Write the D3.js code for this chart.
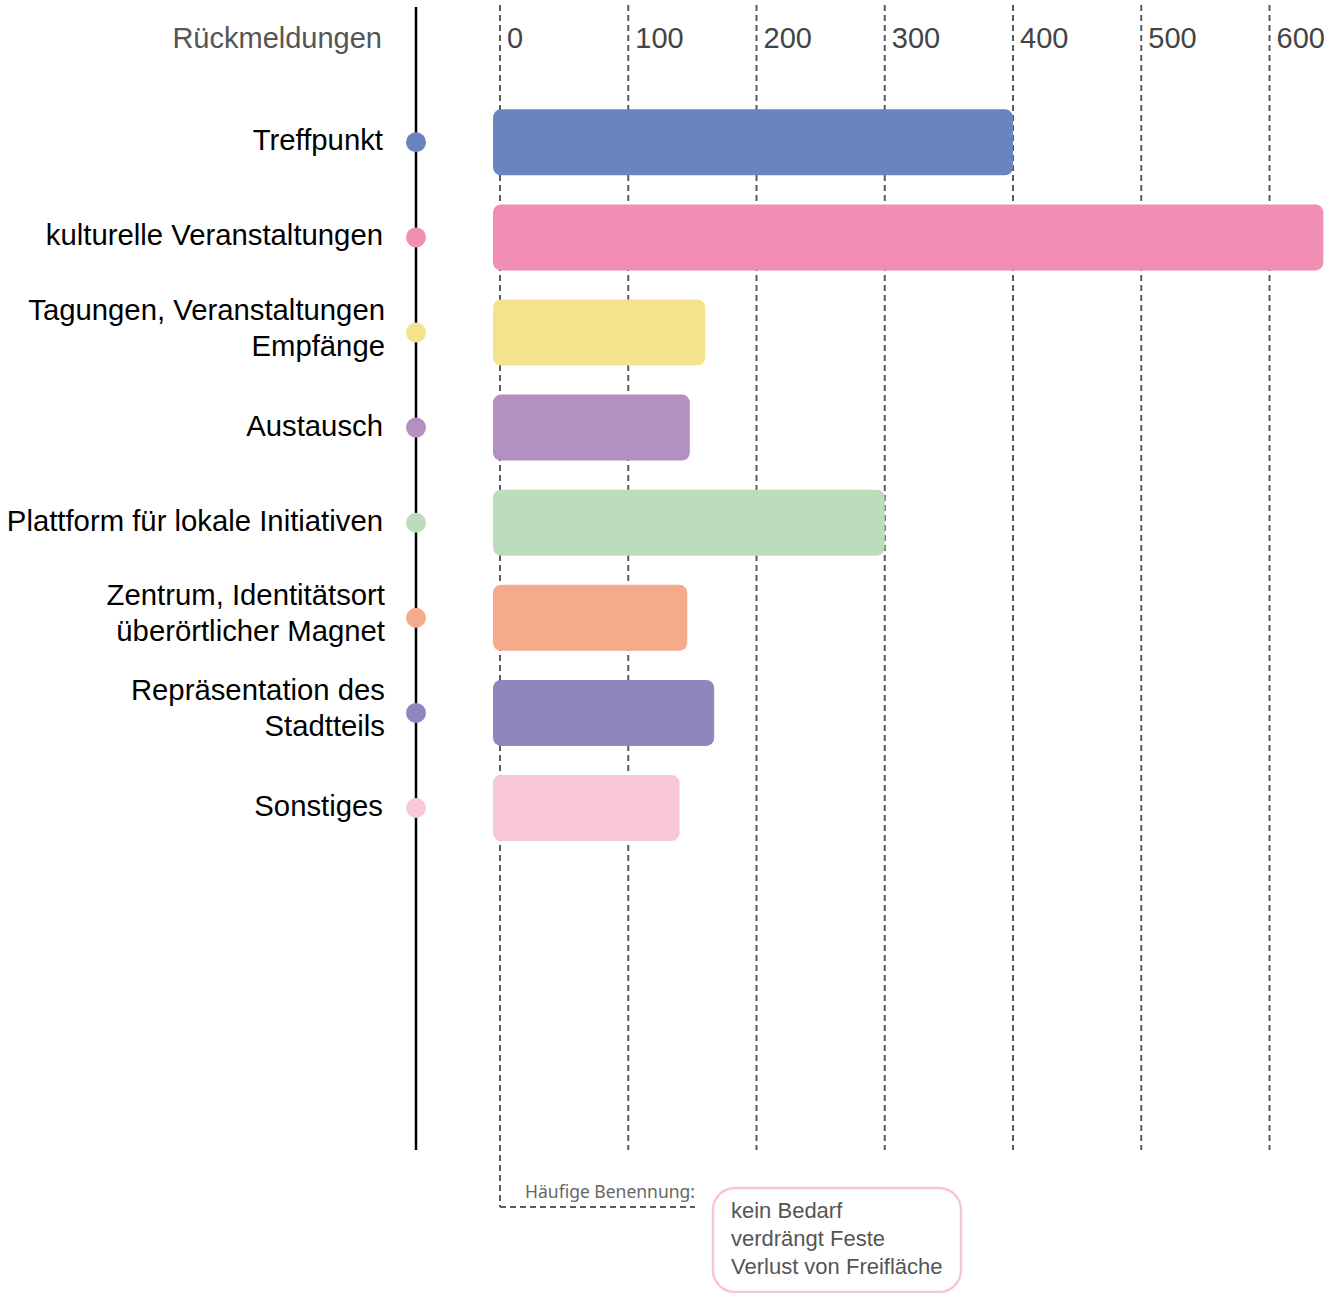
<!DOCTYPE html>
<html>
<head>
<meta charset="utf-8">
<script src="https://cdn.jsdelivr.net/npm/d3@7"></script>
<style>
  html, body { margin: 0; padding: 0; background: #fff; }
  svg { display: block; }
</style>
</head>
<body>
<div id="chart"></div>
<script>
// data
var categories = ['Treffpunkt', 'kulturelle Veranstaltungen', 'Tagungen, Veranstaltungen|Empfänge', 'Austausch',
  'Plattform für lokale Initiativen', 'Zentrum, Identitätsort|überörtlicher Magnet', 'Repräsentation des|Stadtteils', 'Sonstiges'];
var values = [400, 642, 160, 148, 300, 146, 167, 140];
var colors = ['#6a84c0', '#f28db4', '#f4e28c', '#b48fc1', '#bddcbc', '#f6aa8c', '#9085bc', '#f8c8d8'];
var ticks = [0, 100, 200, 300, 400, 500, 600];
var axisTitle = 'Rückmeldungen';
var noteLabel = 'Häufige Benennung:';
var noteLines = ['kein Bedarf', 'verdrängt Feste', 'Verlust von Freifläche'];

var FONT = '"Liberation Sans", Arial, sans-serif';
var w = 1333, h = 1293;

var svg = d3.select('#chart').append('svg').attr('width', w).attr('height', h);

var x = d3.scaleLinear().domain([0, 600]).range([500, 1269.5]);
var y = d3.scaleBand().domain(categories).range([94.75, 855.55]).paddingInner(0.306).paddingOuter(0.153);

var gridTop = 5, gridBottom = 1150, axisX = 416;

// gridlines
svg.append('g').selectAll('line').data(ticks).join('line')
  .attr('x1', function(d) { return x(d); }).attr('x2', function(d) { return x(d); })
  .attr('y1', gridTop)
  .attr('y2', function(d) { return d === 0 ? 1207 : gridBottom; })
  .attr('stroke', '#5a5a5a').attr('stroke-width', 2).attr('stroke-dasharray', '6,4');

// tick labels
svg.append('g').selectAll('text').data(ticks).join('text')
  .attr('x', function(d) { return x(d) + 7; }).attr('y', 48)
  .attr('fill', '#444').attr('font-size', '29px').attr('font-family', FONT)
  .text(function(d) { return d; });

// axis title
svg.append('text').attr('x', 382).attr('y', 48).attr('text-anchor', 'end')
  .attr('fill', '#555').attr('font-size', '29px').attr('font-family', FONT)
  .text(axisTitle);

// vertical axis
svg.append('line').attr('x1', axisX).attr('x2', axisX).attr('y1', 7).attr('y2', gridBottom)
  .attr('stroke', '#000').attr('stroke-width', 2.5);

// bars
svg.append('g').selectAll('rect').data(categories).join('rect')
  .attr('x', x(0) - 7)
  .attr('y', function(d) { return y(d); })
  .attr('width', function(d, i) { return x(values[i]) - x(0) + 7; })
  .attr('height', y.bandwidth())
  .attr('rx', 8).attr('ry', 8)
  .attr('fill', function(d, i) { return colors[i]; });

// dots on axis
svg.append('g').selectAll('circle').data(categories).join('circle')
  .attr('cx', axisX)
  .attr('cy', function(d) { return y(d) + y.bandwidth() / 2; })
  .attr('r', 10)
  .attr('fill', function(d, i) { return colors[i]; });

// category labels
var lab = svg.append('g').selectAll('text').data(categories).join('text')
  .attr('text-anchor', 'end').attr('fill', '#000').attr('font-size', '29.3px').attr('font-family', FONT);
lab.each(function(d) {
  var parts = d.split('|');
  var t = d3.select(this);
  var cy = y(d) + y.bandwidth() / 2;
  parts.forEach(function(p, k) {
    t.append('tspan').attr('x', parts.length === 1 ? 383 : 385)
      .attr('y', parts.length === 1 ? cy + 8 : cy - 13 + k * 36)
      .text(p);
  });
});

// note
svg.append('line').attr('x1', x(0)).attr('x2', 695).attr('y1', 1207).attr('y2', 1207)
  .attr('stroke', '#5a5a5a').attr('stroke-width', 2).attr('stroke-dasharray', '6,4');
svg.append('text').attr('x', 695).attr('y', 1198).attr('text-anchor', 'end')
  .attr('fill', '#666').attr('font-size', '17.5px').attr('font-family', '"Noto Sans", "Open Sans", sans-serif')
  .text(noteLabel);
svg.append('rect').attr('x', 713).attr('y', 1188).attr('width', 248).attr('height', 104)
  .attr('rx', 22).attr('ry', 22)
  .attr('fill', '#fff').attr('stroke', '#f7c6d6').attr('stroke-width', 2.5);
svg.append('g').selectAll('text').data(noteLines).join('text')
  .attr('x', 731).attr('y', function(d, i) { return 1218 + i * 28; })
  .attr('fill', '#555').attr('font-size', '22px').attr('font-family', FONT)
  .text(function(d) { return d; });
</script>
</body>
</html>
